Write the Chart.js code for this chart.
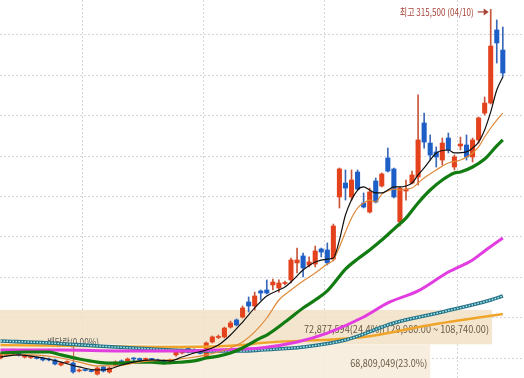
<!DOCTYPE html>
<html><head><meta charset="utf-8">
<script src="https://cdn.jsdelivr.net/npm/chart.js@4.4.1/dist/chart.umd.min.js"></script>
<style>html,body{margin:0;padding:0;background:#fff}canvas{display:block}</style>
</head><body>
<canvas id="c" width="524" height="378"></canvas>
<script>
// ---- data ----
const opens = [100300,102200,103100,103400,100900,100600,100300,100300,99700,99100,
96000,97500,97200,92300,92900,92300,90400,94800,91700,96000,
98500,97200,100300,100000,99400,99700,99100,98500,97200,102200,
103400,106500,105200,103400,100900,110200,113000,113300,119400,123800,
125600,134900,132400,141700,142300,145400,143500,146300,148500,159000,
163300,157700,158300,167600,167000,161400,199700,208300,199700,215100,
196000,190400,209600,206500,223800,217000,184300,203400,208300,212000,
245400,233000,227500,222500,236100,218200,231200,231800,224400,234900,
251500,257700,302800,290400];
const highs = [103400,104000,105900,104000,102200,101500,100900,100900,100300,99700,
97800,98500,97800,93500,93500,92900,94800,95400,94800,98500,
99100,100300,100600,100300,100300,100000,99700,99100,99700,104600,
105900,107100,105900,104000,110200,113900,114500,119400,123100,124400,
132400,138000,141000,142300,148500,149100,148500,147800,162000,168200,
165100,162700,169400,168200,171300,183000,217600,216400,216400,216400,
202200,205200,211400,214500,229900,217600,205900,210200,215700,262700,
251500,238000,230600,236100,239200,225600,236700,238000,236100,249100,
261400,315500,309000,304600];
const lows = [99700,101500,102800,101500,100300,100000,99700,98500,98500,96000,
95400,97200,91000,91700,92300,91700,89800,91700,91000,95400,
96000,96600,98500,98500,98800,99100,97200,96600,96600,101500,
102800,103400,103400,102800,100300,109600,112300,112700,118800,120100,
125000,128700,129900,136100,139800,142300,141000,145400,146600,152800,
150300,156500,156500,162700,157700,160200,192900,197800,197800,204000,
192900,189800,196000,205900,215100,199100,181800,197800,207700,207100,
229900,222500,218200,219400,226900,216400,228700,222500,221300,233000,
250300,257100,282400,273800];
const closes = [102200,103400,104600,102200,101500,100900,100000,99100,99100,96600,
97200,97800,91700,92900,92600,92000,94100,92300,94100,97800,
96600,99700,99700,99100,99700,99400,97800,97200,99100,104000,
105200,104000,104000,103100,109600,113300,113300,118800,121900,120700,
131200,132400,138600,140400,140400,147200,146600,146600,160800,160800,
155900,159600,166400,165700,159000,181800,217000,205200,210200,204600,
193500,202800,196600,213900,215700,199700,205200,204600,213300,234900,
233600,225600,224400,233000,228700,224400,232400,224400,234900,248500,
257700,292900,294800,276200];

// moving averages (candle index, price)
const ma5X = [0,3,7,10,13,16,18,20,22,25,28,30,32,34,36,38,40,42,44,46,47,48,50,52,54,55,56,57,59,60,61,62,63,64,65,66,67,68,69,70,71,72,74,75,77,78,79,80,81,82,83];
const ma5 = [100900,102200,100300,97800,94800,92900,93500,96000,97800,99100,98500,100900,103400,105200,108300,114500,122500,131200,138600,142300,144100,147200,154600,159600,161400,162000,173100,188600,204000,205900,204000,202200,202200,204000,205900,205900,206500,208300,213300,217600,222500,226900,228700,226900,227500,229900,233600,241100,252200,265700,273800];
const ma10X = [0,5,10,13,16,19,22,25,28,31,34,36,38,39,40,42,44,46,48,50,52,54,55,56,57,58,59,60,61,62,63,64,65,66,67,68,69,70,72,74,76,77,78,79,80,81,82,83];
const ma10 = [102200,102200,100300,97800,95400,95400,97200,98500,99100,100300,102200,104000,106500,108300,110200,116400,125000,136100,142300,147800,152800,158300,160800,168800,178100,186700,192900,196000,197800,196600,201500,203400,204600,204000,204600,205200,208300,211400,216400,220700,222500,224400,226900,230600,236700,242300,247200,251500];
const ma20X = [0,4,8,10,13,16,18,20,22,25,27,30,32,34,36,38,40,43,44,47,50,52,54,55,57,59,61,63,65,67,69,71,73,75,76,78,80,82,83];
const ma20 = [103400,104000,104000,102200,99700,97800,97200,97200,97800,97800,97200,97800,98500,100300,101500,103400,106500,112700,114500,122500,131200,136100,141700,146000,155200,161400,167000,173100,179900,186700,196000,204000,210200,214500,215100,218200,223100,231200,234900];
const ma60X = [0,10,20,30,35,40,43,49,54,60,64,69,74,78,80,83];
const ma60 = [105200,105200,104600,104600,105200,105900,106500,110200,115700,125600,134300,141700,153400,160800,166400,174400];
const ma120X = [0,8,16,25,33,40,43,50,57,65,73,81,83];
const ma120 = [110800,109600,107700,105900,104600,104600,105200,107100,111400,121900,128700,136100,138600];
const ma240X = [0,15,30,40,43,60,71,83];
const ma240 = [108300,107700,107100,108300,109600,113300,120700,127500];

// accumulated volume bands
const bandHigh = [129980, 108740];
const bandLow = [108740, 87500];
const bandVolume = [72877594, 68809049];
const bandPct = [24.4, 23.0];
const bandShowRange = [true, false];

const monthStarts = [13.5, 33.5, 53.5, 75.5];
const priceTicks = [100000,125000,150000,175000,200000,225000,250000,275000,300000];
const exDivIndex = 12;
const exDivLabel = '배당락(0.00%)';
const highIndex = 81;
const highDate = '04/10';

// ---- styles ----
const UP = '#e4421d', DOWN = '#1d5fc6';
const bandColors = ['rgba(242,226,198,0.85)', 'rgba(246,236,219,0.9)'];
const bandEndFrac = [0.939, 0.821];

const idx = opens.map((_, i) => i);
const isUp = i => closes[i] >= opens[i];
const pts = (xs, ys) => xs.map((x, k) => ({x, y: ys[k]}));
const fmt = n => n.toLocaleString('en-US');
const fmt2 = n => n.toLocaleString('en-US', {minimumFractionDigits: 2, maximumFractionDigits: 2});

const overlay = {
  id: 'overlay',
  beforeDatasetsDraw(chart) {
    const {ctx, chartArea: a, scales: {x, y}} = chart;
    ctx.save();
    ctx.beginPath(); ctx.rect(a.left, a.top, a.right - a.left, a.bottom - a.top); ctx.clip();
    for (let b = 0; b < bandHigh.length; b++) {
      const y1 = y.getPixelForValue(bandHigh[b]);
      const y2 = y.getPixelForValue(bandLow[b]);
      const w = (a.right - a.left) * bandEndFrac[b];
      ctx.fillStyle = bandColors[b];
      ctx.fillRect(a.left, y1, w, y2 - y1);
      let label = fmt(bandVolume[b]) + '(' + bandPct[b].toFixed(1) + '%)';
      if (bandShowRange[b]) label += '(' + fmt2(bandHigh[b]) + ' ~ ' + fmt2(bandLow[b]) + ')';
      ctx.font = '10px "Noto Sans CJK KR", "DejaVu Sans", sans-serif';
      ctx.fillStyle = '#6a5a44';
      ctx.textAlign = 'right';
      ctx.textBaseline = 'middle';
      const cy = (y1 + Math.min(y2, a.bottom)) / 2 + 2;
      const maxW = bandShowRange[b] ? 185 : 77;
      ctx.fillText(label, a.left + w - 3, cy, maxW);
    }
    // ex-dividend marker
    const ex = x.getPixelForValue(exDivIndex);
    const ey = y.getPixelForValue(highs[exDivIndex]);
    ctx.strokeStyle = '#c0503a'; ctx.lineWidth = 1;
    ctx.beginPath(); ctx.moveTo(ex + 0.5, 346); ctx.lineTo(ex + 0.5, ey); ctx.stroke();
    ctx.font = '10px "Noto Sans CJK KR", sans-serif';
    ctx.fillStyle = '#555';
    ctx.textAlign = 'center'; ctx.textBaseline = 'middle';
    ctx.fillText(exDivLabel, ex, 342, 52);
    ctx.restore();
  },
  afterDraw(chart) {
    const {ctx, scales: {x, y}} = chart;
    const hx = x.getPixelForValue(highIndex);
    const hy = y.getPixelForValue(highs[highIndex]) + 2.5;
    ctx.save();
    ctx.fillStyle = '#a8443a'; ctx.strokeStyle = '#a8443a';
    ctx.font = '10px "Noto Sans CJK KR", sans-serif';
    ctx.textAlign = 'right'; ctx.textBaseline = 'middle';
    ctx.fillText('최고 ' + fmt(highs[highIndex]) + ' (' + highDate + ')', hx - 17, hy, 74);
    ctx.lineWidth = 1.2;
    ctx.beginPath(); ctx.moveTo(hx - 13, hy); ctx.lineTo(hx - 4, hy); ctx.stroke();
    ctx.beginPath(); ctx.moveTo(hx - 2, hy); ctx.lineTo(hx - 7, hy - 3.5); ctx.lineTo(hx - 7, hy + 3.5); ctx.closePath(); ctx.fill();
    ctx.restore();
  }
};

const line = (data, color, width, order, extra) => Object.assign({
  type: 'line', data, borderColor: color, borderWidth: width, pointRadius: 0,
  cubicInterpolationMode: 'monotone', fill: false, order
}, extra || {});

new Chart(document.getElementById('c'), {
  type: 'bar',
  data: {
    datasets: [
      line(pts(ma5X, ma5), '#111111', 1.2, 0),
      line(pts(ma10X, ma10), '#e0893a', 1.2, 1),
      line(pts(ma20X, ma20), '#127c12', 3.2, 2),
      line(pts(ma60X, ma60), '#e23de0', 3, 3),
      line(pts(ma120X, ma120), '#a8f4f4', 1.4, 4, {borderDash: [1.5, 1.5]}),
      line(pts(ma120X, ma120), '#2a7388', 3.6, 5),
      line(pts(ma240X, ma240), '#f0a52a', 2.4, 6),
      {
        type: 'bar', order: 7,
        data: idx.map(i => ({x: i, y: [opens[i], closes[i]]})),
        backgroundColor: c => isUp(c.dataIndex) ? UP : DOWN,
        barThickness: 4.4, grouped: false, minBarLength: 1
      },
      {
        type: 'bar', order: 8,
        data: idx.map(i => ({x: i, y: [lows[i], highs[i]]})),
        backgroundColor: c => isUp(c.dataIndex) ? '#c8553a' : '#3a68b8',
        barThickness: 1, grouped: false
      }
    ]
  },
  options: {
    responsive: false, animation: false,
    layout: {padding: 0},
    plugins: {legend: {display: false}, tooltip: {enabled: false}},
    scales: {
      x: {
        type: 'linear', min: -0.083, max: 86.5, offset: false,
        afterBuildTicks: s => { s.ticks = monthStarts.map(v => ({value: v})); },
        ticks: {display: false},
        grid: {color: '#d6d6d6', lineWidth: 1, drawTicks: false, offset: false},
        border: {display: false, dash: [2, 2]}
      },
      y: {
        type: 'linear', min: 87960, max: 321300,
        afterBuildTicks: s => { s.ticks = priceTicks.map(v => ({value: v})); },
        ticks: {display: false},
        grid: {color: '#d6d6d6', lineWidth: 1, drawTicks: false, offset: false},
        border: {display: false, dash: [2, 2]}
      }
    }
  },
  plugins: [overlay]
});
</script>
</body></html>
